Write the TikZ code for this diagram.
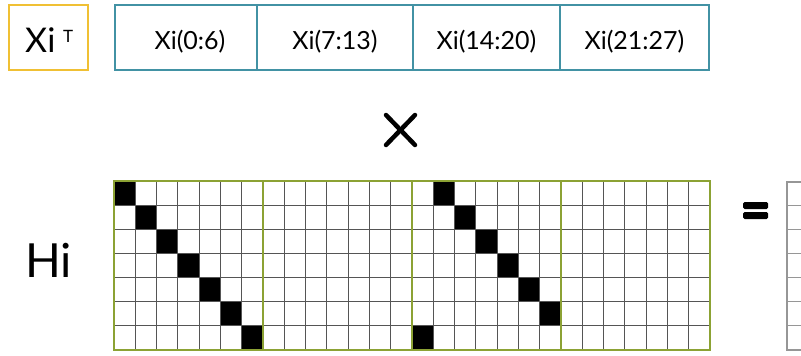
\documentclass[tikz,border=0pt]{standalone}
\usepackage{fontspec}
\setmainfont{Lato}
\definecolor{xyellow}{RGB}{240,192,52}
\definecolor{xteal}{RGB}{66,146,164}
\definecolor{xolive}{RGB}{140,162,52}
\definecolor{xgrid}{RGB}{85,85,85}
\definecolor{xlight}{RGB}{150,150,150}
\tikzset{
  tealcell/.style={draw=xteal, line width=2.6pt, minimum height=65pt, inner sep=0pt},
  cellfont/.style={font=\fontsize{25}{25}\selectfont, anchor=base, inner sep=0pt},
  gridline/.style={draw=xgrid, line width=1.2pt},
  blockline/.style={draw=xolive, line width=2.6pt},
  lightline/.style={draw=xlight, line width=1.2pt},
}
\begin{document}
\begin{tikzpicture}[x=1pt,y=-1pt]
\useasboundingbox (0,0) rectangle (801,356);
\fill[white] (0,0) rectangle (801,356);
% Xi^T box
\node[draw=xyellow, line width=2.6pt, minimum width=79pt, minimum height=65pt, inner sep=0pt] (xtbox) at (48.5,37.5) {};
\node[font=\fontsize{34}{34}\selectfont, anchor=base west, inner sep=0pt] (xtlabel) at (25,52) {Xi};
\node[font=\fontsize{17}{17}\selectfont, anchor=base west, inner sep=0pt] (xtsup) at (63,42) {T};
% teal row
\node[tealcell, minimum width=142pt] (c0) at (186,37.5) {};
\node[tealcell, minimum width=156pt] (c1) at (335,37.5) {};
\node[tealcell, minimum width=147pt] (c2) at (486.5,37.5) {};
\node[tealcell, minimum width=149pt] (c3) at (634.5,37.5) {};
\node[cellfont] (t0) at (190,49) {Xi(0:6)};
\node[cellfont] (t1) at (335,49) {Xi(7:13)};
\node[cellfont] (t2) at (486.5,49) {Xi(14:20)};
\node[cellfont] (t3) at (634.5,49) {Xi(21:27)};
% times sign
\draw[line width=4.5pt, line cap=round] (386,115) -- (415,145);
\draw[line width=4.5pt, line cap=round] (415,115) -- (386,145);
% Hi label
\node[font=\fontsize{47}{47}\selectfont, anchor=base west, inner sep=0pt] (hi) at (25,277) {Hi};
% grid
\def\cw{21.2857}
\def\ch{24.1429}
\foreach \c/\r in {0/0,1/1,2/2,3/3,4/4,5/5,6/6,15/0,16/1,17/2,18/3,19/4,20/5,14/6}
  \fill[black] ({114+\c*\cw},{181+\r*\ch}) rectangle ++(\cw,\ch);
\foreach \i in {1,...,27}
  \draw[gridline] ({114+\i*\cw},181) -- ({114+\i*\cw},350);
\foreach \j in {1,...,6}
  \draw[gridline] (114,{181+\j*\ch}) -- (710,{181+\j*\ch});
\foreach \b in {0,...,3}
  \draw[blockline] ({114+\b*149},181) rectangle ++(149,169);
% equals sign
\fill[black, rounded corners=1.5pt] (743,202) rectangle (768,209);
\fill[black, rounded corners=1.5pt] (743,212) rectangle (768,219);
% partial result grid
\draw[lightline] (801,182) -- (787,182) -- (787,350) -- (801,350);
\foreach \j in {1,...,6}
  \draw[lightline] (787,{181+\j*\ch}) -- (801,{181+\j*\ch});
\end{tikzpicture}
\end{document}
